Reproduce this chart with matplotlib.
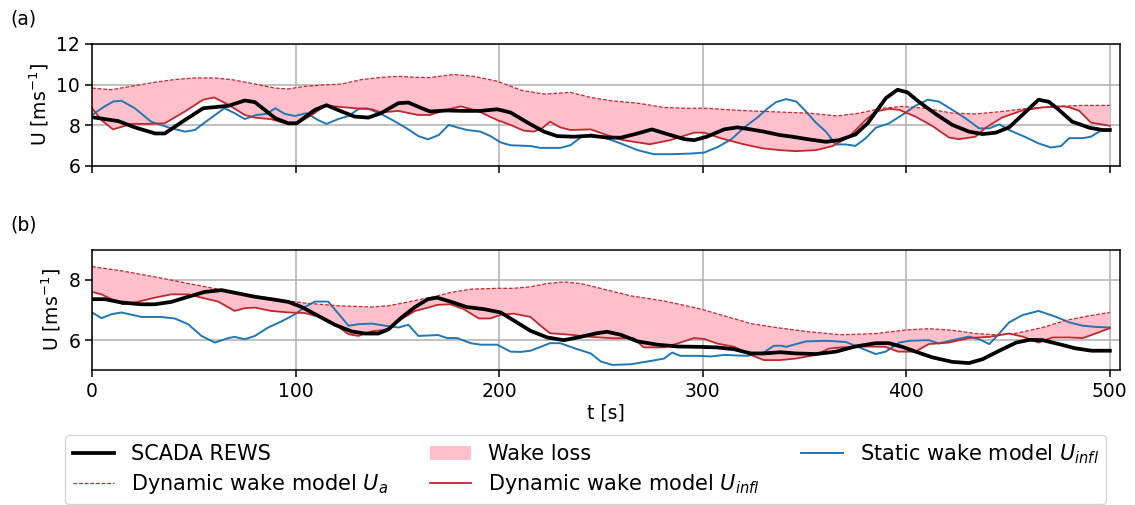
import matplotlib
matplotlib.use("Agg")
import matplotlib.pyplot as plt
import numpy as np

# panel (a)
t_scada_a = [0, 12.8, 21, 31, 35.7, 45.6, 54.6, 67, 75, 80, 90, 96.4, 100.5, 109.5, 115.2, 122.6,
             129, 135.7, 142, 150.5, 155.4, 162, 166, 174.4, 182.6, 190.8, 199, 205.6, 214, 222,
             228.5, 236.7, 245, 253, 259.7, 268, 275, 282.6, 291, 295.7, 302, 310.5, 317, 323.6,
             330, 338, 344, 352, 360.5, 367, 375, 381, 390, 395.7, 400.6, 406, 414.4, 422.6,
             430.8, 437.5, 444, 450.5, 457, 465, 470, 475, 481.5, 490, 496.5, 500]
u_scada_a = [8.40, 8.21, 7.9, 7.6, 7.6, 8.26, 8.84, 8.96, 9.22, 9.14, 8.35, 8.1, 8.1, 8.76, 8.99, 8.68,
             8.43, 8.38, 8.6, 9.09, 9.12, 8.84, 8.68, 8.73, 8.71, 8.71, 8.79, 8.63, 8.13, 7.69,
             7.47, 7.44, 7.49, 7.4, 7.39, 7.6, 7.8, 7.57, 7.32, 7.27, 7.44, 7.8, 7.9, 7.8,
             7.69, 7.52, 7.44, 7.31, 7.19, 7.27, 7.55, 8.1, 9.34, 9.75, 9.62, 9.17, 8.56, 8.02,
             7.69, 7.57, 7.64, 7.9, 8.51, 9.26, 9.16, 8.76, 8.18, 7.88, 7.77, 7.77]

t_ua_a = [0, 9.5, 19.3, 31, 40.6, 50.5, 60, 68.5, 80, 90, 96.4, 104.6, 113, 122.6, 132.5, 142,
          150.5, 158.7, 166, 177.7, 187.5, 199, 211, 222, 235, 245, 255, 268, 281, 291, 302,
          313.6, 323.6, 336, 352, 366, 377, 388, 398, 409, 422.6, 434, 447, 460, 473.7, 486.7, 500]
u_ua_a = [9.83, 9.75, 9.92, 10.12, 10.25, 10.33, 10.33, 10.25, 10.03, 9.83, 9.79, 9.92, 9.98, 10.03,
          10.25, 10.36, 10.41, 10.36, 10.35, 10.5, 10.41, 10.17, 9.72, 9.54, 9.62, 9.37, 9.21, 9.09,
          8.88, 8.84, 8.84, 8.76, 8.71, 8.66, 8.6, 8.46, 8.6, 8.84, 8.93, 8.84, 8.6, 8.56, 8.68,
          8.84, 8.93, 8.98, 8.98]

t_dyn_a = [0, 4.6, 10.3, 19.3, 27.5, 35.7, 45.6, 54.6, 60, 67, 75, 80, 88, 96.4, 100.5, 108,
           114.4, 119.3, 129, 137.4, 142, 150.5, 160, 166, 172.8, 181, 189, 199, 205.6, 212, 217,
           221, 225, 230, 235, 245, 253, 261, 274, 284, 295.7, 300.7, 309, 320, 330, 338, 345.7,
           355.6, 363.8, 372, 380, 385, 391.5, 396.6, 404.5, 412.8, 421, 426, 434, 439, 447, 457,
           467, 477, 480, 485, 490.7, 500]
u_dyn_a = [8.84, 8.26, 7.8, 8.07, 8.07, 8.1, 8.68, 9.26, 9.37, 9.01, 8.51, 8.38, 8.3, 8.05, 8.07, 8.51,
           8.96, 8.93, 8.84, 8.79, 8.63, 8.71, 8.51, 8.51, 8.73, 8.93, 8.73, 8.26, 8.02, 7.74, 7.69,
           7.85, 8.18, 7.9, 7.77, 7.8, 7.52, 7.27, 7.07, 7.27, 7.64, 7.64, 7.36, 7.07, 6.86, 6.78, 6.73,
           6.78, 6.98, 7.44, 8.26, 8.68, 8.81, 8.76, 8.43, 7.97, 7.4, 7.32, 7.44, 7.88, 8.38, 8.73,
           8.88, 8.93, 8.89, 8.71, 8.13, 7.98]

t_sta_a = [0, 5.4, 10.3, 14.4, 21, 29, 37.4, 45.6, 50.5, 57, 65, 70, 75, 80.8, 85.7, 90, 94.7,
           99.7, 105.4, 111, 115.2, 121, 126, 131, 135, 142, 149, 155.4, 160.3, 165, 170.3, 175.2,
           179.3, 184.2, 190.8, 195.7, 200.7, 205.6, 215.4, 220.3, 230, 235, 240, 245, 251.5, 259.7,
           268, 276, 284, 294, 300.7, 307.5, 314, 320.5, 327, 332, 336, 341, 346, 350.7, 355.6,
           360.5, 365.4, 370.3, 375, 380, 385, 391.5, 398, 404.5, 410.5, 416, 422.6, 429, 435.8,
           440.8, 445.7, 450.5, 459, 465, 471, 476, 480, 486.7, 490.7, 495.6, 500]
u_sta_a = [8.51, 8.88, 9.17, 9.21, 8.84, 8.18, 7.9, 7.69, 7.77, 8.26, 8.84, 8.6, 8.31, 8.51, 8.56, 8.84,
           8.56, 8.46, 8.6, 8.26, 8.07, 8.31, 8.46, 8.81, 8.84, 8.56, 8.18, 7.8, 7.47, 7.31, 7.52, 8.02,
           7.9, 7.77, 7.69, 7.47, 7.16, 7.02, 6.98, 6.89, 6.89, 7.02, 7.4, 7.55, 7.4, 7.11,
           6.78, 6.58, 6.58, 6.61, 6.66, 6.94, 7.31, 7.9, 8.4, 8.84, 9.14, 9.29, 9.17, 8.68, 8.13,
           7.69, 7.06, 7.06, 6.99, 7.36, 7.88, 8.1, 8.51, 8.96, 9.26, 9.17, 8.76, 8.35, 7.85,
           7.85, 8.05, 7.77, 7.4, 7.11, 6.91, 6.98, 7.37, 7.37, 7.44, 7.74, 7.77]

# panel (b)
t_scada_b = [0, 6.2, 14.4, 24.3, 30.8, 39, 47.2, 55.4, 63.6, 71.8, 80, 88, 96.4, 103, 111, 119.3,
             127.5, 134, 140.7, 145.6, 152, 158.7, 165, 169.5, 176, 184, 192.5, 200.7, 207, 215.4,
             223.6, 231.8, 240, 248, 253, 259.7, 268, 277.7, 287.6, 297.4, 307, 315.4, 323.6, 330,
             338, 345.7, 355.6, 365.4, 375, 385, 391.5, 398, 404.5, 412.8, 422.6, 430.8, 437.5,
             445.7, 454, 460.5, 467, 475, 483, 491, 500]
u_scada_b = [7.36, 7.36, 7.25, 7.19, 7.19, 7.27, 7.44, 7.6, 7.66, 7.55, 7.44, 7.36, 7.27, 7.1, 6.81, 6.51,
             6.29, 6.22, 6.22, 6.36, 6.75, 7.1, 7.36, 7.41, 7.28, 7.1, 7.03, 6.92, 6.66, 6.31,
             6.09, 6.0, 6.11, 6.23, 6.28, 6.18, 5.96, 5.85, 5.79, 5.78, 5.76, 5.7, 5.56, 5.56,
             5.6, 5.56, 5.54, 5.62, 5.79, 5.9, 5.9, 5.78, 5.62, 5.43, 5.28, 5.24, 5.37,
             5.65, 5.92, 6.01, 6.0, 5.87, 5.73, 5.65, 5.65]

t_ua_b = [0, 14.4, 30.8, 47.2, 63.6, 80, 96.4, 104.6, 121, 137.4, 145.6, 154, 162, 168, 176, 185.9,
          199, 207, 215.4, 223.6, 231.8, 240, 251.5, 264.6, 281, 297.4, 310.5, 323.6, 337, 352,
          368, 385, 400, 411, 422.6, 434, 444, 454, 467, 478.5, 490, 500]
u_ua_b = [8.44, 8.3, 8.1, 7.88, 7.67, 7.47, 7.3, 7.23, 7.14, 7.1, 7.14, 7.25, 7.36, 7.44, 7.58, 7.69,
          7.72, 7.72, 7.77, 7.88, 7.93, 7.88, 7.69, 7.47, 7.3, 7.06, 6.81, 6.55, 6.41, 6.28,
          6.18, 6.22, 6.34, 6.38, 6.33, 6.22, 6.18, 6.23, 6.42, 6.66, 6.81, 6.92]

t_dyn_b = [0, 4.6, 9.5, 15.2, 21, 30.8, 39, 47.2, 53.8, 62, 70, 75, 80, 88, 96.4, 104.6, 112.8,
           119.3, 125.9, 130.8, 137.4, 145.6, 152, 158.7, 165, 169.5, 176, 182.6, 190, 195.7, 200.7,
           207, 215.4, 220.3, 225, 235, 245, 256.4, 266, 271, 281, 287.6, 295.7, 300.7, 307, 315.4,
           323.6, 330, 338, 345.7, 355.6, 362, 368, 378, 389.5, 396, 404.5, 411, 421, 430.8, 440.8,
           450.5, 457, 465, 471.9, 480, 486.7, 493, 500]
u_dyn_b = [7.6, 7.52, 7.36, 7.19, 7.25, 7.41, 7.52, 7.52, 7.41, 7.28, 6.97, 7.06, 7.08, 6.97, 6.92, 6.9, 6.75,
           6.53, 6.2, 6.14, 6.29, 6.36, 6.7, 6.97, 7.08, 7.17, 7.19, 7.03, 6.72, 6.72, 6.84,
           6.88, 6.77, 6.48, 6.23, 6.18, 6.11, 6.06, 6.07, 5.76, 5.76, 5.89, 6.07, 6.04, 5.89, 5.78,
           5.51, 5.34, 5.34, 5.39, 5.51, 5.72, 5.76, 5.79, 5.78, 5.62, 5.62, 5.87, 5.92, 6.07, 6.11,
           6.22, 6.12, 5.92, 6.09, 6.09, 6.07, 6.22, 6.4]

t_sta_b = [0, 4.6, 9.5, 14.4, 24.3, 34, 40.6, 47.2, 53.8, 60.3, 67, 70, 75, 80, 86.5, 93, 99.7,
           104.6, 109.5, 116, 121, 126, 131, 137.4, 144, 150.5, 155.4, 160.3, 170, 174.4, 179.3,
           186, 190.8, 199, 205.6, 210.5, 215.4, 225, 230, 238.4, 245, 250, 255.6, 264.6, 274.4,
           281, 285, 289, 297.4, 304, 310.5, 322, 330, 334.8, 338, 341, 350.7, 360.5, 370.3, 376.9,
           385, 389.9, 396.5, 401.5, 411, 416, 422.6, 430.8, 435.8, 440.8, 445.7, 450.5, 457, 465,
           473.7, 480, 486.7, 493, 500]
u_sta_b = [6.92, 6.73, 6.86, 6.92, 6.77, 6.77, 6.72, 6.53, 6.14, 5.92, 6.07, 6.11, 6.03, 6.14, 6.42, 6.62, 6.86,
           7.1, 7.28, 7.28, 6.88, 6.48, 6.53, 6.55, 6.48, 6.42, 6.51, 6.14, 6.17, 6.07, 6.07,
           5.9, 5.85, 5.85, 5.62, 5.61, 5.65, 5.9, 5.9, 5.7, 5.56, 5.29, 5.18, 5.2, 5.31,
           5.39, 5.59, 5.48, 5.48, 5.46, 5.51, 5.48, 5.59, 5.81, 5.82, 5.78, 5.96, 5.98, 5.94, 5.76,
           5.54, 5.62, 5.92, 5.98, 6.0, 5.89, 6.0, 6.12, 6.03, 5.87, 6.22, 6.59, 6.83, 6.97,
           6.77, 6.59, 6.48, 6.44, 6.42]

x_ticks = [0, 100, 200, 300, 400, 500]
red = "#c1272d"
blue = "#1f77b4"
fs = 13.5

plt.rcParams["font.size"] = fs

fig = plt.figure(figsize=(11.35, 5.05), dpi=100)
ax_a = fig.add_axes([0.0811, 0.6713, 0.9057, 0.2416])
ax_b = fig.add_axes([0.0811, 0.2667, 0.9057, 0.2388], sharex=ax_a)


def draw_panel(ax, ts, us, ta, ua, td, ud, tst, ust):
  ax.grid(True, color="#b0b0b0", linewidth=1.1)
  ax.set_axisbelow(True)
  # wake loss: region between U_a and dynamic U_infl
  ax.fill(np.concatenate([ta, td[::-1]]), np.concatenate([ua, ud[::-1]]),
          color="pink", linewidth=0, label="Wake loss")
  ax.plot(tst, ust, color=blue, linewidth=1.4, label=r"Static wake model $U_{infl}$")
  ax.plot(td, ud, color=red, linewidth=1.3, label=r"Dynamic wake model $U_{infl}$")
  ax.plot(ta, ua, color=red, linewidth=0.9, linestyle=(0, (3, 1.5)),
          label=r"Dynamic wake model $U_a$")
  ax.plot(ts, us, color="black", linewidth=2.7, label="SCADA REWS")
  ax.set_ylabel(r"U [ms$^{-1}$]")
  ax.tick_params(length=5, width=1.1)
  for s in ax.spines.values():
    s.set_linewidth(1.1)


draw_panel(ax_a, t_scada_a, u_scada_a, np.array(t_ua_a), np.array(u_ua_a),
           np.array(t_dyn_a), np.array(u_dyn_a), t_sta_a, u_sta_a)
draw_panel(ax_b, t_scada_b, u_scada_b, np.array(t_ua_b), np.array(u_ua_b),
           np.array(t_dyn_b), np.array(u_dyn_b), t_sta_b, u_sta_b)

ax_a.set_xlim(0, 505)
ax_a.set_xticks(x_ticks)
ax_a.set_ylim(6, 12)
ax_a.set_yticks([6, 8, 10, 12])
plt.setp(ax_a.get_xticklabels(), visible=False)
ax_b.set_ylim(5, 9)
ax_b.set_yticks([6, 8])
ax_b.set_xlabel("t [s]", labelpad=2)

fig.text(0.009, 0.962, "(a)", va="center", ha="left")
fig.text(0.009, 0.555, "(b)", va="center", ha="left")

h, l = ax_a.get_legend_handles_labels()
order = ["SCADA REWS", r"Dynamic wake model $U_a$", "Wake loss",
         r"Dynamic wake model $U_{infl}$", r"Static wake model $U_{infl}$"]
handles = [h[l.index(o)] for o in order]
fig.legend(handles, order, ncol=3, loc="upper center",
           bbox_to_anchor=(0.516, 0.139), frameon=True, fontsize=15,
           borderaxespad=0, labelspacing=0.4, borderpad=0.35)

fig.savefig("out.png", dpi=100)
